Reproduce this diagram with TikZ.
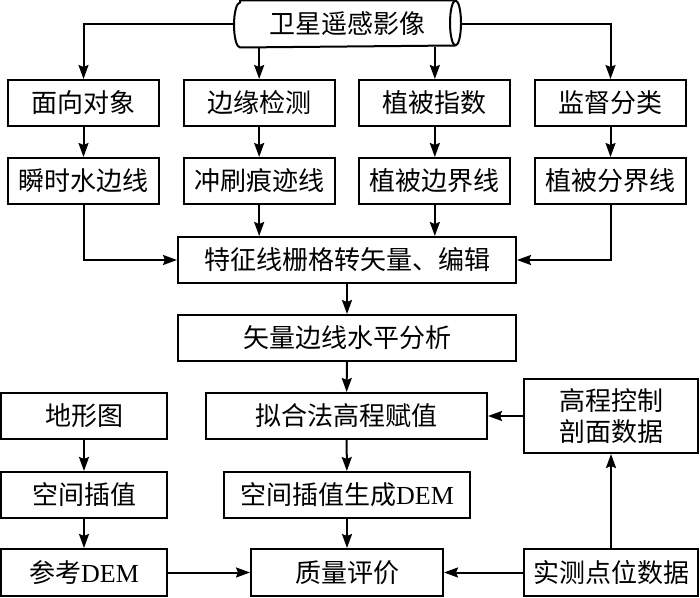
\documentclass[tikz,border=0pt]{standalone}
\usepackage{fontspec}
\setmainfont{Noto Sans CJK SC}
\newfontfamily\latinfont{Liberation Serif}
\usetikzlibrary{arrows.meta}
\tikzset{x=1pt, y=1pt}
\tikzset{box/.style={draw, line width=2pt, minimum height=46pt, inner sep=0pt,
  font=\fontsize{26}{31}\selectfont},
  flow/.style={line width=2pt, -{Stealth[length=14pt,width=10pt,inset=2pt]}}}

\begin{document}
\begin{tikzpicture}
\useasboundingbox (0,0) rectangle (700,597);
% top source, drawn as a lying cylinder
\node[box, draw=none, minimum width=225pt, minimum height=45pt] (img) at (347.5,573) {卫星遥感影像};
\draw[line width=2pt] ([xshift=6pt]img.north west) -- ([xshift=-5.5pt]img.north east)
  arc[start angle=90,end angle=-90,x radius=5.5pt,y radius=22.5pt] -- ([xshift=6pt]img.south west)
  arc[start angle=270,end angle=90,x radius=6pt,y radius=22.5pt] -- cycle;
\draw[line width=2pt] ([xshift=-5.5pt]img.north east) arc[start angle=90,end angle=270,x radius=5.5pt,y radius=22.5pt];
\foreach \t [count=\i] in {面向对象,边缘检测,植被指数,监督分类} % edit here for the methods
\node[box, minimum width=151pt] (a\i) at ({83.5+175.67*(\i-1)},494) {\t};
\foreach \t [count=\i] in {瞬时水边线,冲刷痕迹线,植被边界线,植被分界线}
\node[box, minimum width=151pt] (b\i) at ({83.5+175.67*(\i-1)},416) {\t};
\node[box, minimum width=338pt] (feat) at (347,337) {特征线栅格转矢量、编辑};
\node[box, minimum width=338pt] (vec) at (347,259) {矢量边线水平分析};
\node[box, minimum width=281pt] (fit) at (346.5,181) {拟合法高程赋值};
\node[box, minimum width=174pt, minimum height=74pt, align=center] (ctrl) at (611,181) {高程控制\\剖面数据};
\node[box, minimum width=166pt] (topo) at (84,181) {地形图};
\node[box, minimum width=166pt] (interp) at (84,102) {空间插值};
\node[box, minimum width=166pt, minimum height=47pt] (refdem) at (84,24.5) {参考{\latinfont DEM}};
\node[box, minimum width=246pt] (dem) at (347,102) {空间插值生成{\latinfont DEM}};
\node[box, minimum width=192pt, minimum height=47pt] (qual) at (347,24.5) {质量评价};
\node[box, minimum width=174pt, minimum height=47pt] (meas) at (611,24.5) {实测点位数据};
% connectors
\draw[flow] (img.west) -| (a1);
\draw[flow] (img.east) -| (a4);
\draw[flow] (img.south -| a2) -- (a2);
\draw[flow] (img.south -| a3) -- (a3);
\foreach \i in {1,...,4}
\draw[flow] (a\i) -- (b\i);
\draw[flow] (b1) |- (feat);
\draw[flow] (b4) |- (feat);
\draw[flow] (b2) -- (b2 |- feat.north);
\draw[flow] (b3) -- (b3 |- feat.north);
\draw[flow] (feat) -- (vec);
\draw[flow] (vec) -- (fit);
\draw[flow] (fit) -- (dem);
\draw[flow] (dem) -- (qual);
\draw[flow] (ctrl) -- (fit);
\draw[flow] (meas) -- (ctrl);
\draw[flow] (meas) -- (qual);
\draw[flow] (topo) -- (interp);
\draw[flow] (interp) -- (refdem);
\draw[flow] (refdem) -- (qual);
\end{tikzpicture}
\end{document}
